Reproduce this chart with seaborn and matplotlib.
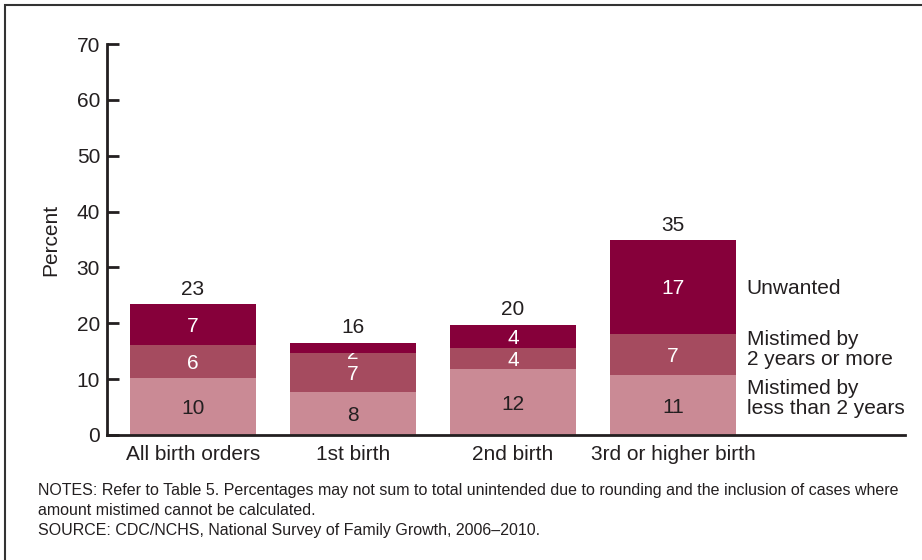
import matplotlib
matplotlib.use("Agg")
import matplotlib.pyplot as plt
import seaborn as sns
import numpy as np
from matplotlib.patches import Rectangle

sns.set_style("white")
plt.rcParams['font.family'] = ['Liberation Sans', 'DejaVu Sans']

# data
orders = ["All birth orders", "1st birth", "2nd birth", "3rd or higher birth"]
less2 = [10.2, 7.7, 11.8, 10.7]
more2 = [5.9, 7.0, 3.8, 7.4]
unwanted = [7.3, 1.8, 4.1, 16.8]
less2_lbl = ["10", "8", "12", "11"]
more2_lbl = ["6", "7", "4", "7"]
unwanted_lbl = ["7", "2", "4", "17"]
total_lbl = ["23", "16", "20", "35"]

c_light = "#CA8A95"
c_mid = "#A54B5F"
c_dark = "#86003A"
ink = "#231F20"
fs = 15

low = np.array(less2)
mid = low + np.array(more2)
top = mid + np.array(unwanted)

fig = plt.figure(figsize=(9.22, 5.6), dpi=100)
ax = fig.add_axes([107/922, 1 - 435/560, (905 - 107)/922, (435 - 44)/560])

# stacked by overdrawing cumulative totals
for vals, col in [(top, c_dark), (mid, c_mid), (low, c_light)]:
    sns.barplot(x=orders, y=vals, color=col, width=0.79, saturation=1,
                edgecolor="none", linewidth=0, ax=ax)

mid_patches = [p for p in ax.patches if p.get_facecolor()[:3] == matplotlib.colors.to_rgb(c_mid)]

for i in range(len(orders)):
    ax.text(i, low[i] / 2, less2_lbl[i], ha="center", va="center_baseline",
            fontsize=fs, color=ink)
    ax.text(i, (low[i] + mid[i]) / 2, more2_lbl[i], ha="center", va="center_baseline",
            fontsize=fs, color="white")
    if unwanted[i] < 3:
        # too thin: label is squeezed under the top segment
        t = ax.text(i, mid[i] + 0.2, unwanted_lbl[i], ha="center", va="center_baseline",
                    fontsize=fs, color="white", clip_on=True)
        t.set_clip_path(mid_patches[i])
    else:
        ax.text(i, (mid[i] + top[i]) / 2, unwanted_lbl[i], ha="center", va="center_baseline",
                fontsize=fs, color="white")
    ax.annotate(total_lbl[i], (i, top[i]), xytext=(0, 4), textcoords="offset points",
                ha="center", va="bottom", fontsize=fs, color=ink)

# right-hand legend text
ax.text(3.46, (mid[3] + top[3]) / 2, "Unwanted", ha="left", va="center_baseline",
        fontsize=fs, color=ink)
ax.text(3.46, 15.3, "Mistimed by\n2 years or more", ha="left", va="center",
        fontsize=fs, color=ink, linespacing=1.1)
ax.text(3.46, 6.5, "Mistimed by\nless than 2 years", ha="left", va="center",
        fontsize=fs, color=ink, linespacing=1.1)

ax.set_xlim(-0.5375, 4.45)
ax.set_ylim(0, 70)
ax.set_yticks(range(0, 71, 10))
ax.set_ylabel("Percent", fontsize=fs, color=ink, labelpad=12)
ax.set_xlabel("")
ax.tick_params(axis="y", direction="in", length=8.5, width=2, labelsize=fs,
               labelcolor=ink, color=ink, left=True, pad=5)
ax.tick_params(axis="x", length=0, labelsize=fs, labelcolor=ink, pad=7)
for s in ["top", "right"]:
    ax.spines[s].set_visible(False)
for s in ["left", "bottom"]:
    ax.spines[s].set_linewidth(2)
    ax.spines[s].set_color(ink)

fig.text(38/922, 1 - 483/560, "NOTES: Refer to Table 5. Percentages may not sum to total unintended "
         "due to rounding and the inclusion of cases where\namount mistimed cannot be calculated.\n"
         "SOURCE: CDC/NCHS, National Survey of Family Growth, 2006\u20132010.",
         ha="left", va="top", fontsize=11.5, color=ink, linespacing=1.42)

# outer frame (cropped at right and bottom)
fig.patches.append(Rectangle((5/922, -0.1), 1.2, 1 - 5/560 + 0.1, transform=fig.transFigure,
                             fill=False, edgecolor="#333333", linewidth=1.5))

fig.savefig("out.png", dpi=100)
